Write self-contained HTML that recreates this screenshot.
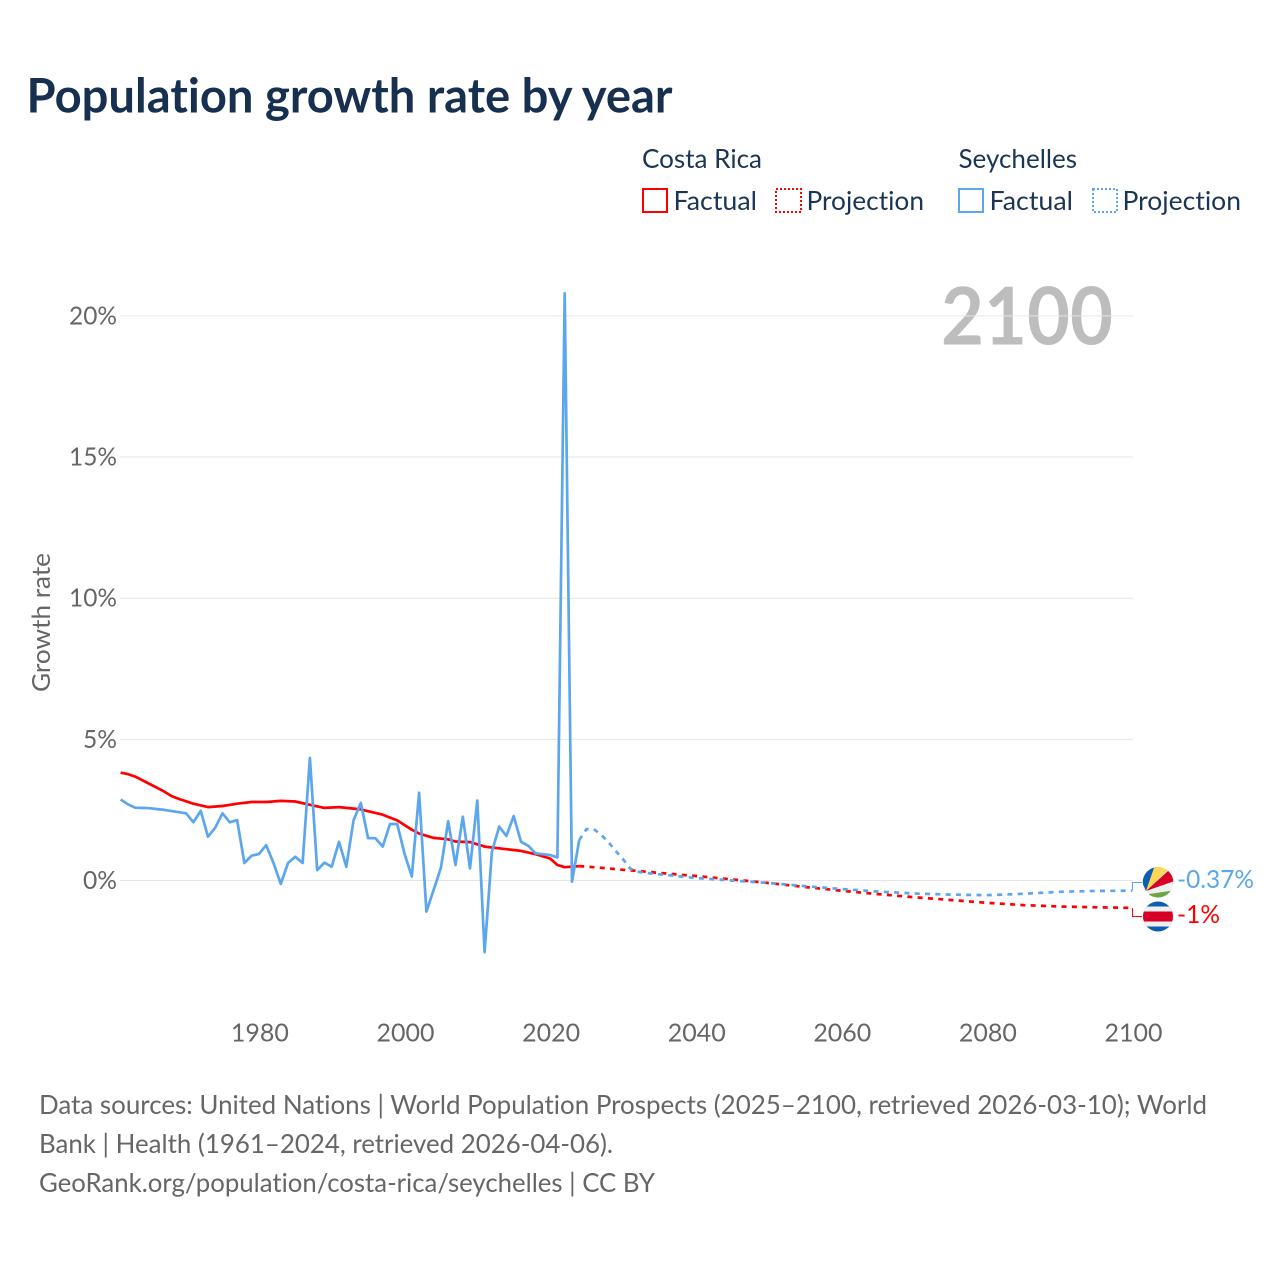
<!DOCTYPE html>
<html lang="en">
<head>
<meta charset="utf-8">
<title>Population growth rate by year</title>
<style>
html,body{margin:0;padding:0;background:#fff;width:1280px;height:1280px;overflow:hidden}
svg{display:block}
text{font-family:"Lato","Carlito","Liberation Sans",sans-serif;font-variant-ligatures:none;font-feature-settings:"liga" 0,"clig" 0}
</style>
</head>
<body>
<svg id="chart" xmlns="http://www.w3.org/2000/svg" width="1280" height="1280" viewBox="0 0 1280 1280">
  <defs>
    <clipPath id="flag-clip-sc"><circle cx="1158" cy="882.3" r="15.3"/></clipPath>
    <clipPath id="flag-clip-cr"><circle cx="1158" cy="916.5" r="15"/></clipPath>
  </defs>
  <rect x="0" y="0" width="1280" height="1280" fill="#fff"/>

  <text x="26.5" y="112.5" font-size="48" font-weight="700" fill="#18304f" textLength="646" lengthAdjust="spacingAndGlyphs">Population growth rate by year</text>

  <g font-size="26" fill="#1b3555">
    <text x="642" y="168" textLength="120" lengthAdjust="spacingAndGlyphs">Costa Rica</text>
    <rect x="643" y="189" width="24" height="23" fill="none" stroke="#ff0000" stroke-width="2"/>
    <text x="673.5" y="210" textLength="83.5" lengthAdjust="spacingAndGlyphs">Factual</text>
    <rect x="776" y="189" width="25" height="23" fill="none" stroke="#ff0000" stroke-width="2" stroke-dasharray="2 2"/>
    <text x="806.5" y="210" textLength="117.5" lengthAdjust="spacingAndGlyphs">Projection</text>
    <text x="958.5" y="168" textLength="118.5" lengthAdjust="spacingAndGlyphs">Seychelles</text>
    <rect x="959" y="189" width="24" height="23" fill="none" stroke="#5ca6ee" stroke-width="2"/>
    <text x="989.5" y="210" textLength="83.5" lengthAdjust="spacingAndGlyphs">Factual</text>
    <rect x="1093" y="189" width="24" height="23" fill="none" stroke="#5ca6ee" stroke-width="2" stroke-dasharray="2 2"/>
    <text x="1122.5" y="210" textLength="118.5" lengthAdjust="spacingAndGlyphs">Projection</text>
  </g>

  <text x="941" y="344.5" font-size="80" font-weight="700" fill="#bdbdbd" textLength="172" lengthAdjust="spacingAndGlyphs">2100</text>

  <g id="grid"></g>
  <g id="y-ticks" font-size="25" fill="#666"></g>
  <g id="x-ticks" font-size="25" fill="#666"></g>
  <text transform="translate(50,692) rotate(-90)" font-size="25" fill="#666" textLength="139" lengthAdjust="spacingAndGlyphs">Growth rate</text>

  <g id="series"></g>

  <path d="M1132.5 890V882.5H1142" fill="none" stroke="#5ca6ee" stroke-width="1"/>
  <path d="M1132.5 908V916.5H1142" fill="none" stroke="#ff0000" stroke-width="1"/>

  <g clip-path="url(#flag-clip-sc)">
    <rect x="1141" y="865" width="36" height="36" fill="#f0f0f0"/>
    <polygon points="1146,891 1141,880 1141,862 1158,862" fill="#0d5eaf"/>
    <polygon points="1146,891 1156,862 1172,866" fill="#fcd856"/>
    <polygon points="1146,891 1168.3,870.7 1176,880.5" fill="#d80027"/>
    <polygon points="1149,894 1176,890 1176,900 1149,900" fill="#6da544"/>
  </g>
  <g clip-path="url(#flag-clip-cr)">
    <rect x="1143" y="901.5" width="30" height="30" fill="#0d5eaf"/>
    <rect x="1143" y="906.5" width="30" height="20" fill="#f0f0f0"/>
    <rect x="1143" y="911.5" width="30" height="10" fill="#d80027"/>
  </g>

  <text x="1177" y="888" font-size="25" fill="#5ca6ee" textLength="77" lengthAdjust="spacingAndGlyphs">-0.37%</text>
  <text x="1177" y="923" font-size="25" fill="#ff0000" textLength="43" lengthAdjust="spacingAndGlyphs">-1%</text>

  <g font-size="26" fill="#666">
    <text x="39" y="1114" textLength="1168" lengthAdjust="spacingAndGlyphs">Data sources: United Nations | World Population Prospects (2025–2100, retrieved 2026-03-10); World</text>
    <text x="39" y="1153" textLength="574" lengthAdjust="spacingAndGlyphs">Bank | Health (1961–2024, retrieved 2026-04-06).</text>
    <text x="39" y="1192" textLength="616" lengthAdjust="spacingAndGlyphs">GeoRank.org/population/costa-rica/seychelles | CC BY</text>
  </g>
</svg>
<script>
const yTickValues = [0, 5, 10, 15, 20];
const xTickYears = [1980, 2000, 2020, 2040, 2060, 2080, 2100];

const costaRicaFactualYears = [1961,1962,1963,1965,1967,1968,1969,1971,1973,1975,1977,1979,1981,1983,1985,1987,1989,1991,1994,1997,1999,2001,2002,2004,2006,2007,2009,2011,2014,2016,2018,2020,2021,2022,2024];
const costaRicaFactualValues = [3.82,3.77,3.68,3.42,3.15,2.99,2.89,2.72,2.6,2.64,2.72,2.78,2.78,2.82,2.8,2.68,2.57,2.6,2.52,2.33,2.13,1.8,1.66,1.51,1.46,1.38,1.36,1.2,1.11,1.05,0.93,0.78,0.55,0.47,0.51];

const seychellesFactualYears = [1961,1962,1963,1964,1965,1966,1967,1968,1969,1970,1971,1972,1973,1974,1975,1976,1977,1978,1979,1980,1981,1982,1983,1984,1985,1986,1987,1988,1989,1990,1991,1992,1993,1994,1995,1996,1997,1998,1999,2000,2001,2002,2003,2004,2005,2006,2007,2008,2009,2010,2011,2012,2013,2014,2015,2016,2017,2018,2019,2020,2021,2022,2023,2024];
const seychellesFactualValues = [2.87,2.7,2.58,2.57,2.56,2.53,2.5,2.46,2.42,2.38,2.06,2.47,1.55,1.87,2.38,2.06,2.14,0.62,0.88,0.94,1.25,0.62,-0.12,0.62,0.84,0.62,4.34,0.37,0.63,0.49,1.37,0.49,2.14,2.75,1.5,1.5,1.2,2.0,2.0,0.95,0.14,3.11,-1.1,-0.34,0.45,2.1,0.55,2.26,0.43,2.83,-2.54,1.02,1.91,1.58,2.28,1.37,1.23,0.96,0.93,0.9,0.82,20.8,-0.04,1.43];

const costaRicaProjectionYears = [2024,2026,2028,2030,2032,2035,2040,2045,2050,2055,2060,2065,2070,2075,2080,2085,2090,2095,2100];
const costaRicaProjectionValues = [0.51,0.47,0.43,0.38,0.34,0.27,0.16,0.04,-0.09,-0.23,-0.36,-0.48,-0.59,-0.69,-0.79,-0.87,-0.92,-0.95,-0.97];

const seychellesProjectionYears = [2024,2025,2026,2027,2028,2029,2030,2031,2032,2033,2035,2040,2045,2050,2055,2060,2065,2070,2075,2080,2085,2090,2095,2100];
const seychellesProjectionValues = [1.43,1.82,1.82,1.62,1.36,1.05,0.76,0.42,0.31,0.27,0.22,0.09,0.0,-0.09,-0.2,-0.3,-0.39,-0.46,-0.5,-0.52,-0.47,-0.4,-0.37,-0.36];

const NS = 'http://www.w3.org/2000/svg';
function xScale(year) { return 120.6 + (year - 1961) * 7.28; }
function yScale(value) { return 880.5 - value * 28.23; }
function pathFor(years, values) {
  return years.map(function (yr, i) {
    return (i ? 'L' : 'M') + xScale(yr).toFixed(1) + ' ' + yScale(values[i]).toFixed(1);
  }).join('');
}

const grid = document.getElementById('grid');
const yTicks = document.getElementById('y-ticks');
yTickValues.forEach(function (v) {
  const line = document.createElementNS(NS, 'line');
  
  
  line.setAttribute('x1', 120);
  line.setAttribute('x2', 1133);
  line.setAttribute('y1', yScale(v));
  line.setAttribute('y2', yScale(v));
  line.setAttribute('stroke', '#e6e6e6');
  line.setAttribute('stroke-width', 1);
  grid.appendChild(line);

  const label = document.createElementNS(NS, 'text');
  
  
  label.setAttribute('x', 117);
  label.setAttribute('y', yScale(v) + 8.5);
  label.setAttribute('text-anchor', 'end');
  label.setAttribute('textLength', v >= 10 ? 48 : 34);
  label.setAttribute('lengthAdjust', 'spacingAndGlyphs');
  label.textContent = v + '%';
  yTicks.appendChild(label);
});

const xTicks = document.getElementById('x-ticks');
xTickYears.forEach(function (yr) {
  const label = document.createElementNS(NS, 'text');
  
  
  label.setAttribute('x', xScale(yr) + 1);
  label.setAttribute('y', 1041.5);
  label.setAttribute('text-anchor', 'middle');
  label.setAttribute('textLength', 58);
  label.setAttribute('lengthAdjust', 'spacingAndGlyphs');
  label.textContent = String(yr);
  xTicks.appendChild(label);
});

const series = document.getElementById('series');

const crFactual = document.createElementNS(NS, 'path');


crFactual.setAttribute('d', pathFor(costaRicaFactualYears, costaRicaFactualValues));
crFactual.setAttribute('fill', 'none');
crFactual.setAttribute('stroke', '#ff0000');
crFactual.setAttribute('stroke-width', 2.7);
crFactual.setAttribute('stroke-linejoin', 'round');
series.appendChild(crFactual);

const crProjection = document.createElementNS(NS, 'path');


crProjection.setAttribute('d', pathFor(costaRicaProjectionYears, costaRicaProjectionValues));
crProjection.setAttribute('fill', 'none');
crProjection.setAttribute('stroke', '#ff0000');
crProjection.setAttribute('stroke-width', 2.7);
crProjection.setAttribute('stroke-dasharray', '5 5.3');
series.appendChild(crProjection);

const scProjection = document.createElementNS(NS, 'path');


scProjection.setAttribute('d', pathFor(seychellesProjectionYears, seychellesProjectionValues));
scProjection.setAttribute('fill', 'none');
scProjection.setAttribute('stroke', '#5ca6ee');
scProjection.setAttribute('stroke-width', 2.7);
scProjection.setAttribute('stroke-dasharray', '5 5.3');
series.appendChild(scProjection);

const scFactual = document.createElementNS(NS, 'path');


scFactual.setAttribute('d', pathFor(seychellesFactualYears, seychellesFactualValues));
scFactual.setAttribute('fill', 'none');
scFactual.setAttribute('stroke', '#5ca6ee');
scFactual.setAttribute('stroke-width', 2.7);
scFactual.setAttribute('stroke-linejoin', 'round');
series.appendChild(scFactual);
</script>
</body>
</html>
